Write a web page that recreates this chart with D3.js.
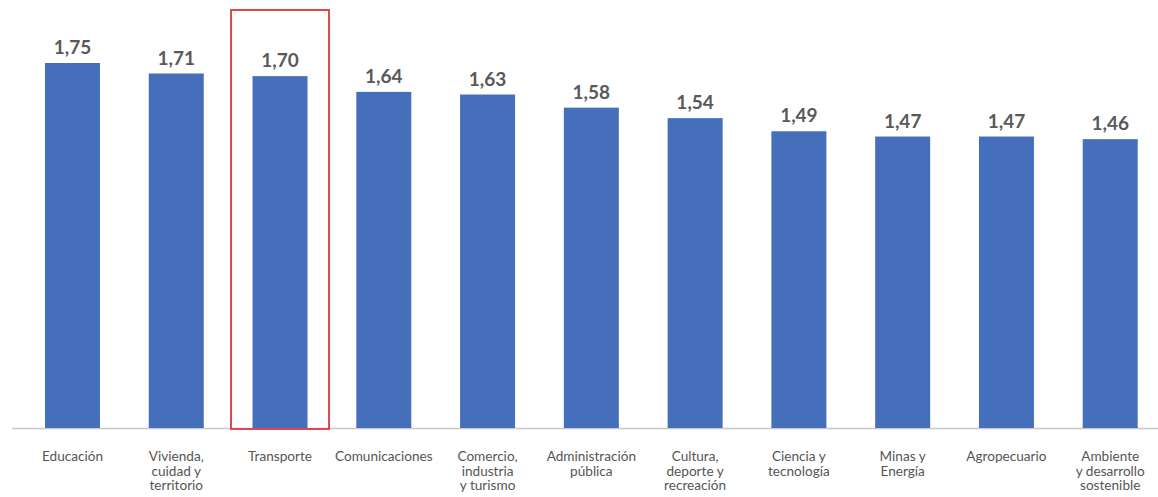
<!DOCTYPE html>
<html><head><meta charset="utf-8">
<script src="https://cdn.jsdelivr.net/npm/d3@7"></script>
<style>body{margin:0;background:#fff}svg{display:block}</style>
</head><body>
<svg id="c" width="1158" height="497"></svg>
<script>
const categories = [
  ["Educación"],
  ["Vivienda,", "cuidad y", "territorio"],
  ["Transporte"],
  ["Comunicaciones"],
  ["Comercio,", "industria", "y turismo"],
  ["Administración", "pública"],
  ["Cultura,", "deporte y", "recreación"],
  ["Ciencia y", "tecnología"],
  ["Minas y", "Energía"],
  ["Agropecuario"],
  ["Ambiente", "y desarrollo", "sostenible"]
];
const values = [1.75, 1.71, 1.70, 1.64, 1.63, 1.58, 1.54, 1.49, 1.47, 1.47, 1.46];
const highlighted = ["Transporte"];

const svg = d3.select("#c");
const W = 1158, H = 497;
const baseY = 428;
const keys = categories.map(d => d.join(" "));

const x = d3.scaleBand().domain(keys).range([20.6, 1162.1]).paddingInner(0.47).paddingOuter(0.235);
const y = d3.scaleLinear().domain([0.36, 1.75]).range([baseY, 63]);

// axis line
svg.append("line").attr("x1", 12).attr("x2", W).attr("y1", baseY + 0.5).attr("y2", baseY + 0.5)
  .attr("stroke", "#c8c8c8").attr("stroke-width", 1.5);

// bars
svg.selectAll("rect.bar").data(values).join("rect").attr("class", "bar")
  .attr("x", (d, i) => x(keys[i]))
  .attr("width", x.bandwidth())
  .attr("y", d => y(d))
  .attr("height", d => baseY - y(d))
  .attr("fill", "#456fbb");

// value labels
const fmt = v => d3.format(".2f")(v).replace(".", ",");
svg.selectAll("text.val").data(values).join("text").attr("class", "val")
  .attr("x", (d, i) => x(keys[i]) + x.bandwidth() / 2)
  .attr("y", d => y(d) - 9)
  .attr("text-anchor", "middle")
  .attr("font-family", "Lato, sans-serif").attr("font-weight", "bold")
  .attr("font-size", 19).attr("fill", "#595959")
  .text(d => fmt(d));

// category labels
const cl = svg.selectAll("text.cat").data(categories).join("text").attr("class", "cat")
  .attr("text-anchor", "middle")
  .attr("font-family", "Lato, sans-serif").attr("font-size", 13.6)
  .attr("fill", "#555555");
cl.each(function(lines, i) {
  const t = d3.select(this);
  lines.forEach((ln, j) => {
    t.append("tspan").attr("x", x(keys[i]) + x.bandwidth() / 2)
      .attr("y", 461 + j * 14.5).text(ln);
  });
});

// highlight box
highlighted.forEach(h => {
  const k = keys[categories.findIndex(c => c.join(" ") === h)];
  const cx = x(k) + x.bandwidth() / 2;
  svg.append("rect")
    .attr("x", cx - 49).attr("width", 98)
    .attr("y", 10).attr("height", baseY + 1 - 10)
    .attr("fill", "none").attr("stroke", "#e0474c").attr("stroke-width", 2);
});
</script>
</body></html>
